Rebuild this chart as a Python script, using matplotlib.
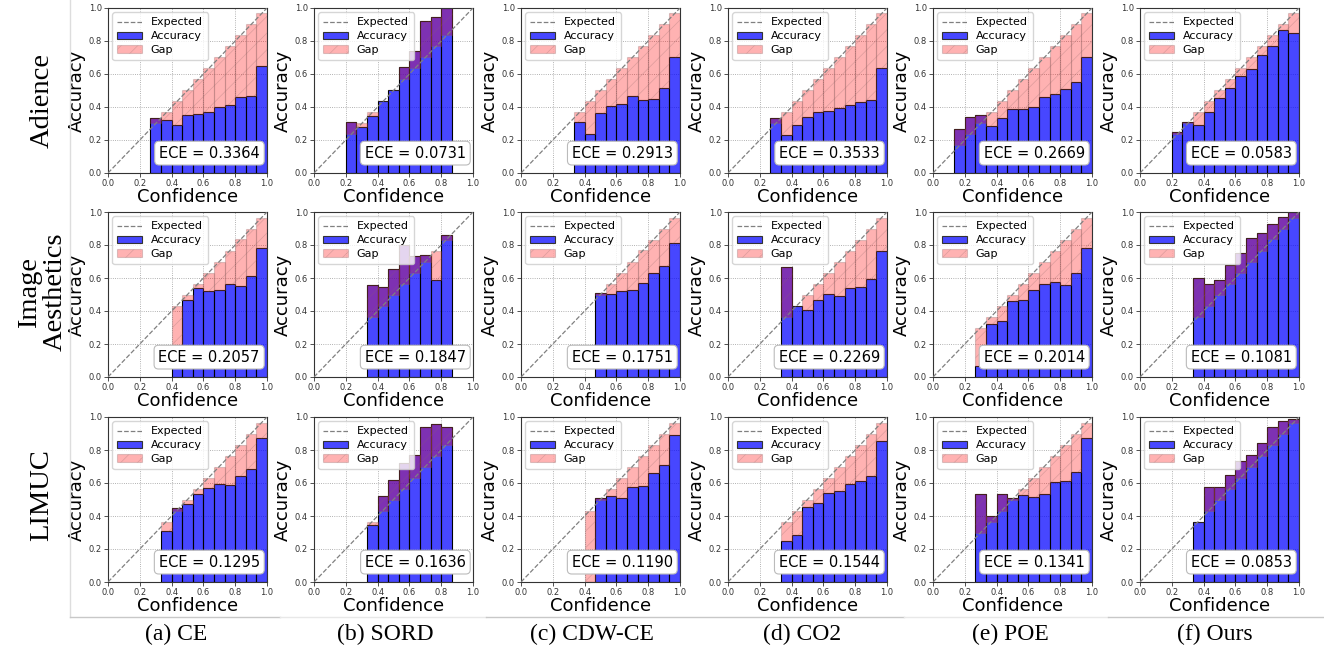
import matplotlib.pyplot as plt
import numpy as np
from matplotlib.lines import Line2D
from matplotlib.patches import Patch

plt.rcParams['hatch.linewidth'] = 0.5

# 15 equal-width confidence bins
n_bins = 15
bin_centers = (np.arange(n_bins) + 0.5) / n_bins

methods = ['(a) CE', '(b) SORD', '(c) CDW-CE', '(d) CO2', '(e) POE', '(f) Ours']
datasets = ['Adience', 'Image\nAesthetics', 'LIMUC']

N = None  # empty bin
# per-bin accuracy
adience_ce = [N, N, N, N, 0.333, 0.32, 0.293, 0.354, 0.358, 0.37, 0.402, 0.414, 0.46, 0.467, 0.65]
adience_sord = [N, N, N, 0.31, 0.28, 0.345, 0.435, 0.505, 0.64, 0.74, 0.92, 0.947, 1.0, N, N]
adience_cdw = [N, N, N, N, N, 0.311, 0.238, 0.364, 0.408, 0.418, 0.467, 0.44, 0.446, 0.517, 0.703]
adience_co2 = [N, N, N, N, 0.333, 0.232, 0.293, 0.337, 0.372, 0.374, 0.394, 0.412, 0.43, 0.442, 0.636]
adience_poe = [N, N, 0.266, 0.339, 0.353, 0.286, 0.335, 0.389, 0.389, 0.40, 0.462, 0.48, 0.51, 0.554, 0.70]
adience_ours = [N, N, N, 0.248, 0.309, 0.291, 0.37, 0.453, 0.513, 0.59, 0.63, 0.717, 0.772, 0.867, 0.848]

aes_ce = [N, N, N, N, N, N, 0.176, 0.469, 0.539, 0.521, 0.525, 0.566, 0.554, 0.61, 0.784]
aes_sord = [N, N, N, N, N, 0.555, 0.545, 0.655, 0.80, 0.733, 0.74, 0.585, 0.86, N, N]
aes_cdw = [N, N, N, N, N, N, N, 0.509, 0.505, 0.521, 0.527, 0.57, 0.628, 0.673, 0.814]
aes_co2 = [N, N, N, N, N, 0.667, 0.43, 0.408, 0.469, 0.501, 0.493, 0.541, 0.545, 0.594, 0.764]
aes_poe = [N, N, N, N, 0.069, 0.323, 0.341, 0.462, 0.468, 0.528, 0.565, 0.577, 0.556, 0.633, 0.782]
aes_ours = [N, N, N, N, N, 0.60, 0.564, 0.588, 0.679, 0.754, 0.84, 0.875, 0.927, 0.97, 1.0]

limuc_ce = [N, N, N, N, N, 0.307, 0.448, 0.473, 0.535, 0.57, 0.594, 0.588, 0.64, 0.687, 0.873]
limuc_sord = [N, N, N, N, N, 0.345, 0.521, 0.618, 0.723, 0.772, 0.939, 0.955, 0.939, N, N]
limuc_cdw = [N, N, N, N, N, N, 0.0, 0.509, 0.521, 0.511, 0.578, 0.582, 0.661, 0.707, 0.893]
limuc_co2 = [N, N, N, N, N, 0.25, 0.287, 0.455, 0.479, 0.539, 0.552, 0.594, 0.61, 0.64, 0.853]
limuc_poe = [N, N, N, N, 0.532, 0.403, 0.536, 0.512, 0.53, 0.518, 0.536, 0.605, 0.615, 0.667, 0.871]
limuc_ours = [N, N, N, N, N, 0.366, 0.574, 0.576, 0.65, 0.733, 0.772, 0.84, 0.939, 0.974, 0.988]

accs = [
    [adience_ce, adience_sord, adience_cdw, adience_co2, adience_poe, adience_ours],
    [aes_ce, aes_sord, aes_cdw, aes_co2, aes_poe, aes_ours],
    [limuc_ce, limuc_sord, limuc_cdw, limuc_co2, limuc_poe, limuc_ours],
]
eces = [
    ['0.3364', '0.0731', '0.2913', '0.3533', '0.2669', '0.0583'],
    ['0.2057', '0.1847', '0.1751', '0.2269', '0.2014', '0.1081'],
    ['0.1295', '0.1636', '0.1190', '0.1544', '0.1341', '0.0853'],
]

W, H = 1324, 651
fig = plt.figure(figsize=(W / 100, H / 100), dpi=100)

col_left = [108, 314, 521, 728, 933, 1140]
row_top = [8, 212, 417]
ax_w, ax_h = 159, 165

blue = (0.0, 0.0, 1.0, 0.72)
pink = (1.0, 0.0, 0.0, 0.3)
gap_edge = (0.55, 0.4, 0.4, 0.3)

for r in range(3):
    for c in range(6):
        ax = fig.add_axes([col_left[c] / W, 1 - (row_top[r] + ax_h) / H, ax_w / W, ax_h / H])
        acc = np.array([np.nan if v is None else v for v in accs[r][c]])
        m = ~np.isnan(acc)
        x = bin_centers[m]
        a = acc[m]
        ax.set_axisbelow(True)
        ax.grid(color='gray', linestyle=':', linewidth=0.6, alpha=0.8)
        ax.bar(x, a, width=1 / n_bins, color=blue, edgecolor='black', linewidth=0.8, zorder=2)
        ax.bar(x, x - a, bottom=a, width=1 / n_bins, color=pink, edgecolor=gap_edge,
               hatch='//', linewidth=0.8, zorder=2.5)
        ax.plot([0, 1], [0, 1], linestyle='--', color='gray', linewidth=0.9, zorder=3)
        ax.set_xlim(0, 1)
        ax.set_ylim(0, 1)
        ax.set_xticks(np.arange(0, 1.01, 0.2))
        ax.set_yticks(np.arange(0, 1.01, 0.2))
        ax.tick_params(labelsize=6, length=3, width=0.6, pad=1.5, colors='#333333')
        for s in ax.spines.values():
            s.set_color('#333333')
            s.set_linewidth(0.8)
        ax.set_xlabel('Confidence', fontsize=13, labelpad=0)
        ax.set_ylabel('Accuracy', fontsize=13, labelpad=2)

        handles = [
            Line2D([], [], linestyle='--', color='gray', linewidth=0.9),
            Patch(facecolor=blue, edgecolor='#333333', linewidth=0.8),
            Patch(facecolor=pink, edgecolor=gap_edge, hatch='//', linewidth=0.8),
        ]
        ax.legend(handles, ['Expected', 'Accuracy', 'Gap'], loc='upper left', fontsize=8,
                  handlelength=2.2, borderpad=0.45, labelspacing=0.35, framealpha=0.8,
                  borderaxespad=0.4)
        ax.text(0.955, 0.075, 'ECE = ' + eces[r][c], transform=ax.transAxes, ha='right',
                va='bottom', fontsize=10.5, zorder=5,
                bbox=dict(boxstyle='round,pad=0.3', facecolor='white', edgecolor='#bbbbbb',
                          linewidth=0.8))

# row labels
serif = ['Liberation Serif', 'DejaVu Serif']
row_y = [100, 292, 495]
for r in range(3):
    fig.text(42 / W, 1 - row_y[r] / H, datasets[r], rotation=90, ha='center', va='center',
             fontsize=20.5, family=serif, linespacing=1.05)

# column captions
cap_x = [176, 385, 592, 802, 1010, 1215]
for c in range(6):
    fig.text(cap_x[c] / W, 1 - 634 / H, methods[c], ha='center', va='center', fontsize=17,
             family=serif)

# thin frame lines of the original subfigures
fig.add_artist(Line2D([70 / W, 70 / W], [1 - 617 / H, 1], color='#dddddd', linewidth=1))
for x0, x1, col in [(70, 280, '#c8c8c8'), (280, 486, '#e8e8e8'), (486, 904, '#c8c8c8'),
                    (904, 1108, '#e8e8e8'), (1108, 1324, '#c8c8c8')]:
    fig.add_artist(Line2D([x0 / W, x1 / W], [1 - 617 / H, 1 - 617 / H], color=col, linewidth=1))

fig.savefig('out.png', dpi=100)
